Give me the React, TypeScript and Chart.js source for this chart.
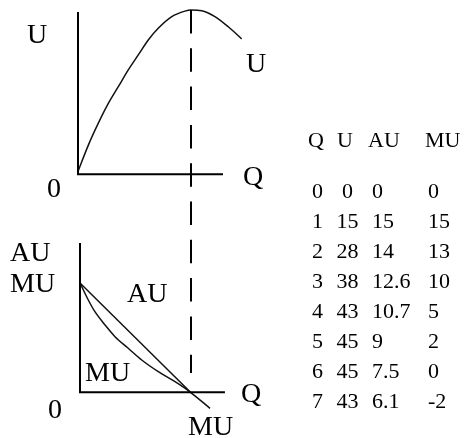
import React, { useEffect, useRef } from "react";
import { Chart, registerables } from "chart.js";

Chart.register(...registerables);

// ---- Table data ----
const tableQ = [0, 1, 2, 3, 4, 5, 6, 7];
const tableU = [0, 15, 28, 38, 43, 45, 45, 43];
const tableAU = ["0", "15", "14", "12.6", "10.7", "9", "7.5", "6.1"];
const tableMU = [0, 15, 13, 10, 5, 2, 0, -2];
const tableHeader = ["Q", "U", "AU", "MU"];

// ---- Schematic curves ----
// Total utility (top panel)
const uQ = [0, 0.55, 1.08, 1.61, 2.14, 2.67, 3.2, 3.73, 4.26, 4.98, 5.68, 6, 6.57, 7.27, 7.98, 8.69];
const uVal = [0.8, 8.0, 14.0, 19.4, 24.0, 28.6, 32.7, 36.8, 40.0, 43.2, 44.7, 45, 44.8, 43.2, 40.4, 37.1];
// Average utility (bottom panel, straight)
const auQ = [0, 6];
const auVal = [15, 0];
// Marginal utility (bottom panel, curved)
const muQ = [0, 0.45, 0.81, 1.36, 1.9, 2.62, 3.35, 4.25, 5.16, 6, 7.06];
const muVal = [15, 12.67, 11.06, 9.24, 7.63, 6.04, 4.43, 2.83, 1.45, 0, -2.2];

// Diagram axes extents (in data units)
const topAxisQ = [0, 0, 7.7];
const topAxisU = [44.45, 0, 0];
const botAxisQ = [0, 0, 7.87];
const botAxisV = [20.5, 0, 0];

const Q_STAR = 6; // where U is max and MU = 0
const U_MAX = 45;
const DASH_END = 2.65; // lower end of dashed line on bottom scale

const toPts = (xs: number[], ys: number[]) => xs.map((x, i) => ({ x, y: ys[i] }));

const SERIF = '"Liberation Serif", "Times New Roman", serif';

const labels = [
  { text: "U", x: 27, y: 43 },
  { text: "U", x: 246, y: 72 },
  { text: "0", x: 47, y: 197 },
  { text: "Q", x: 243, y: 185 },
  { text: "AU", x: 10, y: 261 },
  { text: "MU", x: 10, y: 292 },
  { text: "AU", x: 127, y: 302 },
  { text: "MU", x: 85, y: 381 },
  { text: "0", x: 48, y: 418 },
  { text: "Q", x: 241, y: 402 },
  { text: "MU", x: 188, y: 435 },
];

const overlayPlugin = {
  id: "overlay",
  afterDatasetsDraw(chart: any) {
    const ctx: CanvasRenderingContext2D = chart.ctx;
    const { xTop, yTop, yBot } = chart.scales;
    ctx.save();
    // dashed vertical line at Q*
    const x = Math.round(xTop.getPixelForValue(Q_STAR));
    ctx.strokeStyle = "#000";
    ctx.lineWidth = 2;
    ctx.setLineDash([23.5, 14.8]);
    ctx.beginPath();
    ctx.moveTo(x, yTop.getPixelForValue(U_MAX));
    ctx.lineTo(x, yBot.getPixelForValue(DASH_END));
    ctx.stroke();
    ctx.setLineDash([]);

    // axis labels
    ctx.fillStyle = "#000";
    ctx.textBaseline = "alphabetic";
    ctx.textAlign = "left";
    ctx.font = `28px ${SERIF}`;
    labels.forEach((l) => ctx.fillText(l.text, l.x, l.y));

    // table
    ctx.font = `22px ${SERIF}`;
    const headX = [308, 337, 368, 425];
    tableHeader.forEach((h, i) => ctx.fillText(h, headX[i], 147));
    tableQ.forEach((q, i) => {
      const yb = 198 + 30 * i;
      ctx.textAlign = "center";
      ctx.fillText(String(q), 317.5, yb);
      ctx.fillText(String(tableU[i]), 347.5, yb);
      ctx.textAlign = "left";
      ctx.fillText(tableAU[i], 372, yb);
      ctx.fillText(String(tableMU[i]), 428, yb);
    });
    ctx.restore();
  },
};

export default function App() {
  const ref = useRef<HTMLCanvasElement | null>(null);

  useEffect(() => {
    if (!ref.current) return;
    const lineBase = {
      pointRadius: 0,
      borderColor: "#111",
      fill: false,
    };
    const chart = new Chart(ref.current, {
      type: "line",
      data: {
        datasets: [
          {
            ...lineBase,
            data: toPts(topAxisQ, topAxisU),
            borderWidth: 2,
            borderColor: "#000",
            tension: 0,
            borderJoinStyle: "miter",
            xAxisID: "xTop",
            yAxisID: "yTop",
          },
          {
            ...lineBase,
            data: toPts(botAxisQ, botAxisV),
            borderWidth: 2,
            borderColor: "#000",
            tension: 0,
            borderJoinStyle: "miter",
            xAxisID: "xBot",
            yAxisID: "yBot",
          },
          {
            ...lineBase,
            label: "U",
            data: toPts(uQ, uVal),
            borderWidth: 1.5,
            cubicInterpolationMode: "monotone",
            xAxisID: "xTop",
            yAxisID: "yTop",
          },
          {
            ...lineBase,
            label: "AU",
            data: toPts(auQ, auVal),
            borderWidth: 1.5,
            tension: 0,
            xAxisID: "xBot",
            yAxisID: "yBot",
          },
          {
            ...lineBase,
            label: "MU",
            data: toPts(muQ, muVal),
            borderWidth: 1.5,
            cubicInterpolationMode: "monotone",
            xAxisID: "xBot",
            yAxisID: "yBot",
          },
        ] as any,
      },
      options: {
        animation: false,
        responsive: false,
        maintainAspectRatio: false,
        devicePixelRatio: 1,
        layout: { padding: 0 },
        parsing: false as any,
        plugins: {
          legend: { display: false },
          tooltip: { enabled: false },
          title: { display: false },
        },
        events: [],
        scales: {
          xTop: { type: "linear", display: false, min: -4.1416, max: 20.602 },
          xBot: { type: "linear", display: false, min: -4.344, max: 20.959 },
          yTop: { type: "linear", display: false, min: -72.225, max: 47.739 },
          yBot: { type: "linear", display: false, min: -6.272, max: 53.838 },
        },
      },
      plugins: [overlayPlugin],
    });
    return () => chart.destroy();
  }, []);

  return (
    <div style={{ position: "fixed", left: 0, top: 0, width: 466, height: 438, background: "#fff" }}>
      <canvas ref={ref} width={466} height={438} style={{ display: "block" }} />
    </div>
  );
}
